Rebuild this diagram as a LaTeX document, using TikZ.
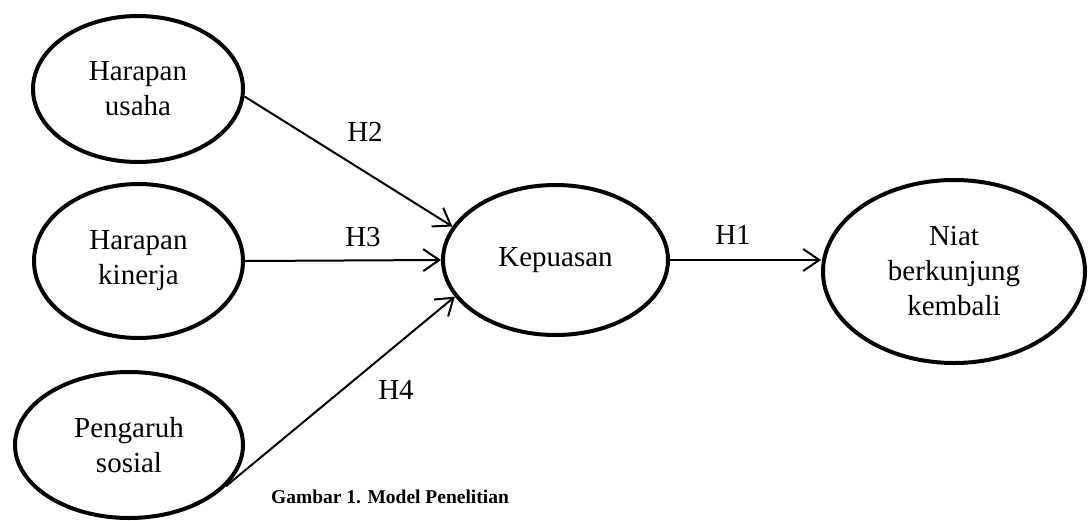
\documentclass[tikz,border=0pt]{standalone}
\usepackage{fontspec}
\setmainfont{Liberation Serif}
\usetikzlibrary{shapes.geometric,arrows.meta}
\begin{document}
\begin{tikzpicture}[x=1pt,y=-1pt,
  var/.style={draw, ellipse, line width=4pt, inner sep=0pt, align=center,
    font=\fontsize{29}{35}\selectfont},
  link/.style={line width=2pt, -{Straight Barb[length=16pt,width=22pt]}},
  hlab/.style={font=\fontsize{29}{35}\selectfont, inner sep=0pt}]
\useasboundingbox (0,0) rectangle (1092,520);
\node[var, minimum width=210pt, minimum height=146pt] (hu) at (138,89) {Harapan\\usaha};
\node[var, minimum width=209pt, minimum height=154pt] (hk) at (138.5,261) {Harapan\\kinerja};
\node[var, minimum width=228pt, minimum height=146pt] (ps) at (129,445) {Pengaruh\\sosial};
\node[var, minimum width=225pt, minimum height=150pt] (kp) at (555.5,260) {Kepuasan};
\node[var, minimum width=262pt, minimum height=183pt] (nb) at (954,271.5) {Niat\\berkunjung\\kembali};
\draw[link] (hu.-4) -- (kp.162);
\draw[link] (hk.east) -- (kp.west);
\draw[link] (ps.-23.5) -- (kp.200);
\draw[link] (kp.east) -- (kp.east -| nb.west);
\node[hlab] (h2) at (365,132) {H2};
\node[hlab] (h3) at (363,237) {H3};
\node[hlab] (h4) at (396,390) {H4};
\node[hlab] (h1) at (733,235) {H1};
\node[font=\fontsize{19.5}{23}\selectfont\bfseries, inner sep=0pt] (cap) at (390,497) {Gambar 1. Model Penelitian};
\end{tikzpicture}
\end{document}
